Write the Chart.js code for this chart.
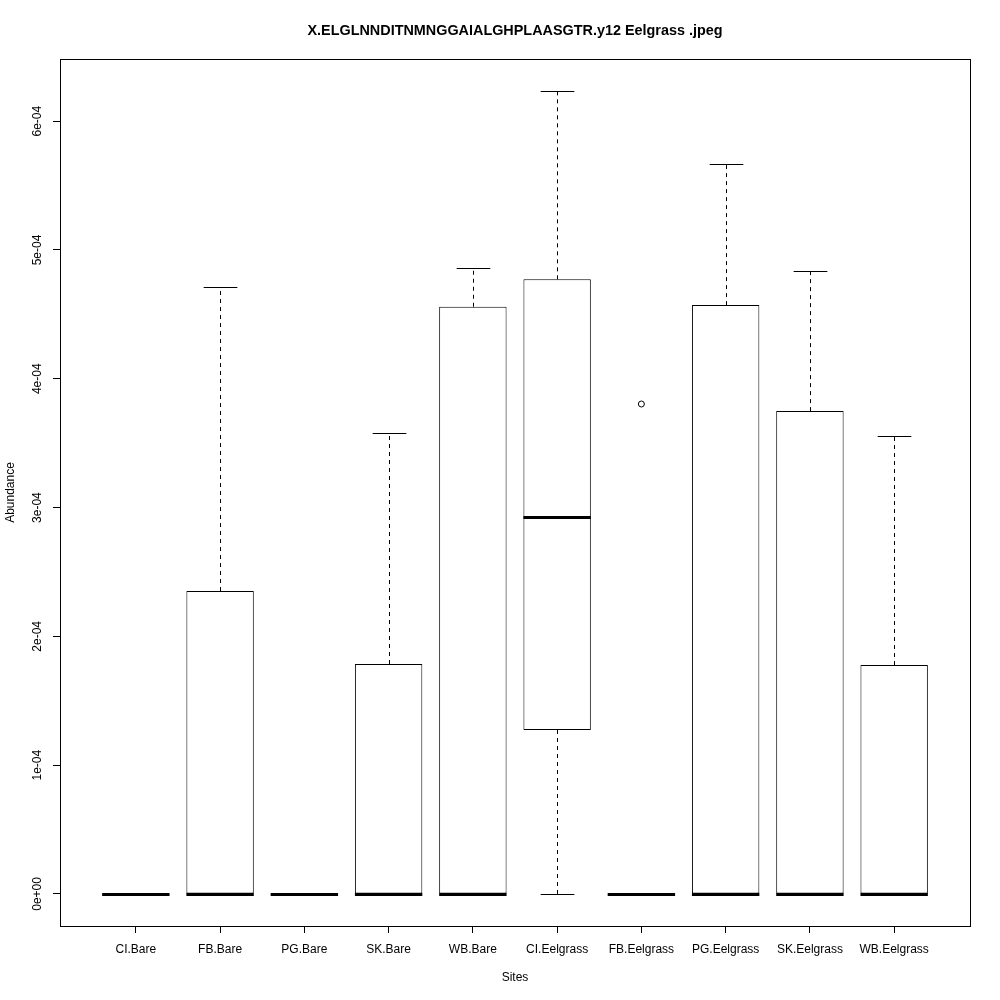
<!DOCTYPE html>
<html>
<head>
<meta charset="utf-8">
<script src="https://cdn.jsdelivr.net/npm/chart.js@4/dist/chart.umd.min.js"></script>
<style>
  html, body { margin: 0; padding: 0; background: #fff; }
  canvas { display: block; }
</style>
</head>
<body>
<canvas id="box" width="1000" height="1000"></canvas>
<script>
// values
const sites = [ 'CI.Bare', 'FB.Bare', 'PG.Bare', 'SK.Bare', 'WB.Bare',
    'CI.Eelgrass', 'FB.Eelgrass', 'PG.Eelgrass', 'SK.Eelgrass', 'WB.Eelgrass' ];
const whiskerLow = [ 0, 0, 0, 0, 0, 0, 0, 0, 0, 0 ];
const q1 = [ 0, 0, 0, 0, 0, 1.273e-4, 0, 0, 0, 0 ];
const median = [ 0, 0, 0, 0, 0, 2.926e-4, 0, 0, 0, 0 ];
const q3 = [ 0, 2.352e-4, 0, 1.785e-4, 4.559e-4, 4.772e-4, 0, 4.572e-4, 3.749e-4, 1.777e-4 ];
const whiskerHigh = [ 0, 4.712e-4, 0, 3.578e-4, 4.857e-4, 6.234e-4, 0, 5.667e-4, 4.836e-4, 3.555e-4 ];
const outliers = [ { site: 7, value: 3.804e-4 } ];
const yTicks = [ 0, 1e-4, 2e-4, 3e-4, 4e-4, 5e-4, 6e-4 ];
const yTickLabels = [ '0e+00', '1e-04', '2e-04', '3e-04', '4e-04', '5e-04', '6e-04' ];

const FONT = 'Liberation Sans, Arial, Helvetica, sans-serif';

// whiskers under the boxes, medians + frame + rotated y labels on top
const boxExtras = {
    id: 'boxExtras',
    beforeDatasetsDraw ( chart ) {
        const { ctx, scales: { x, y } } = chart;
        const bars = chart.getDatasetMeta( 0 ).data;
        ctx.save();
        ctx.strokeStyle = '#000';
        ctx.lineWidth = 1;
        sites.forEach( ( s, i ) => {
            const cx = Math.round( x.getPixelForValue( i + 1 ) ) + 0.5;
            const hw = bars[ i ].width / 2;
            const yLo = y.getPixelForValue( whiskerLow[ i ] );
            const yQ1 = y.getPixelForValue( q1[ i ] );
            const yQ3 = y.getPixelForValue( q3[ i ] );
            const yHi = y.getPixelForValue( whiskerHigh[ i ] );
            ctx.setLineDash( [ 4, 4 ] );
            ctx.beginPath();
            ctx.moveTo( cx, yQ3 ); ctx.lineTo( cx, yHi );
            ctx.moveTo( cx, yQ1 ); ctx.lineTo( cx, yLo );
            ctx.stroke();
            ctx.setLineDash( [] );
            ctx.beginPath();
            ctx.moveTo( cx - hw / 2, Math.round( yHi ) + 0.5 ); ctx.lineTo( cx + hw / 2, Math.round( yHi ) + 0.5 );
            ctx.moveTo( cx - hw / 2, Math.round( yLo ) + 0.5 ); ctx.lineTo( cx + hw / 2, Math.round( yLo ) + 0.5 );
            ctx.stroke();
        } );
        ctx.restore();
    },
    afterDatasetsDraw ( chart ) {
        const { ctx, chartArea: a, scales: { x, y } } = chart;
        const bars = chart.getDatasetMeta( 0 ).data;
        ctx.save();
        ctx.strokeStyle = '#000';
        ctx.lineWidth = 3;
        sites.forEach( ( s, i ) => {
            const cx = x.getPixelForValue( i + 1 );
            const hw = bars[ i ].width / 2;
            const ym = Math.round( y.getPixelForValue( median[ i ] ) ) + 0.5;
            ctx.beginPath();
            ctx.moveTo( cx - hw, ym ); ctx.lineTo( cx + hw, ym );
            ctx.stroke();
        } );
        // plot frame
        ctx.lineWidth = 1;
        ctx.strokeRect( Math.round( a.left ) + 0.5, Math.round( a.top ) + 0.5,
            Math.round( a.right - a.left ), Math.round( a.bottom - a.top ) );
        // y tick labels, rotated like R's las=0
        ctx.fillStyle = '#000';
        ctx.font = '12px ' + FONT;
        ctx.textAlign = 'center';
        ctx.textBaseline = 'middle';
        yTicks.forEach( ( v, i ) => {
            ctx.save();
            ctx.translate( 38, y.getPixelForValue( v ) );
            ctx.rotate( -Math.PI / 2 );
            ctx.fillText( yTickLabels[ i ], 0, 0 );
            ctx.restore();
        } );
        ctx.restore();
    }
};
Chart.register( boxExtras );

new Chart( document.getElementById( 'box' ), {
    type: 'bar',
    data: {
        datasets: [ {
            data: sites.map( ( s, i ) => ( { x: i + 1, y: [ q1[ i ], q3[ i ] ] } ) ),
            backgroundColor: '#fff',
            borderColor: '#000',
            borderWidth: 1,
            borderSkipped: false,
            barPercentage: 0.8,
            categoryPercentage: 1.0
        }, {
            type: 'scatter',
            data: outliers.map( o => ( { x: o.site, y: o.value } ) ),
            pointRadius: 3,
            pointBorderWidth: 1,
            pointBorderColor: '#000',
            pointBackgroundColor: 'rgba(0,0,0,0)'
        } ]
    },
    options: {
        responsive: false,
        animation: false,
        layout: { padding: { top: 0, right: 30, bottom: 0, left: 0 } },
        plugins: {
            legend: { display: false },
            tooltip: { enabled: false },
            title: {
                display: true,
                fullSize: false,
                text: 'X.ELGLNNDITNMNGGAIALGHPLAASGTR.y12 Eelgrass .jpeg',
                color: '#000',
                font: { family: FONT, size: 14.4, weight: 'bold' },
                padding: { top: 22, bottom: 19.7 }
            }
        },
        scales: {
            x: {
                type: 'linear',
                min: 0.1,
                max: 10.9,
                offset: false,
                afterBuildTicks: ( scale ) => { scale.ticks = sites.map( ( s, i ) => ( { value: i + 1 } ) ); },
                afterFit: ( scale ) => { scale.height = 74; },
                grid: { offset: false, drawOnChartArea: false, drawTicks: true, tickLength: 7, color: '#000' },
                border: { display: false },
                ticks: {
                    color: '#000',
                    padding: 9,
                    maxRotation: 0,
                    autoSkip: false,
                    font: { family: FONT, size: 12 },
                    callback: ( v ) => sites[ v - 1 ]
                },
                title: {
                    display: true,
                    text: 'Sites',
                    color: '#000',
                    font: { family: FONT, size: 12 },
                    padding: { top: 0, bottom: 14.8 }
                }
            },
            y: {
                type: 'linear',
                min: -0.249e-4,
                max: 6.483e-4,
                afterBuildTicks: ( scale ) => { scale.ticks = yTicks.map( v => ( { value: v } ) ); },
                afterFit: ( scale ) => { scale.width = 60; },
                grid: { drawOnChartArea: false, drawTicks: true, tickLength: 7, color: '#000' },
                border: { display: false },
                ticks: { display: false },
                title: {
                    display: true,
                    text: 'Abundance',
                    color: '#000',
                    font: { family: FONT, size: 12 },
                    padding: { top: 3.8, bottom: 0 }
                }
            }
        }
    }
} );
</script>
</body>
</html>
